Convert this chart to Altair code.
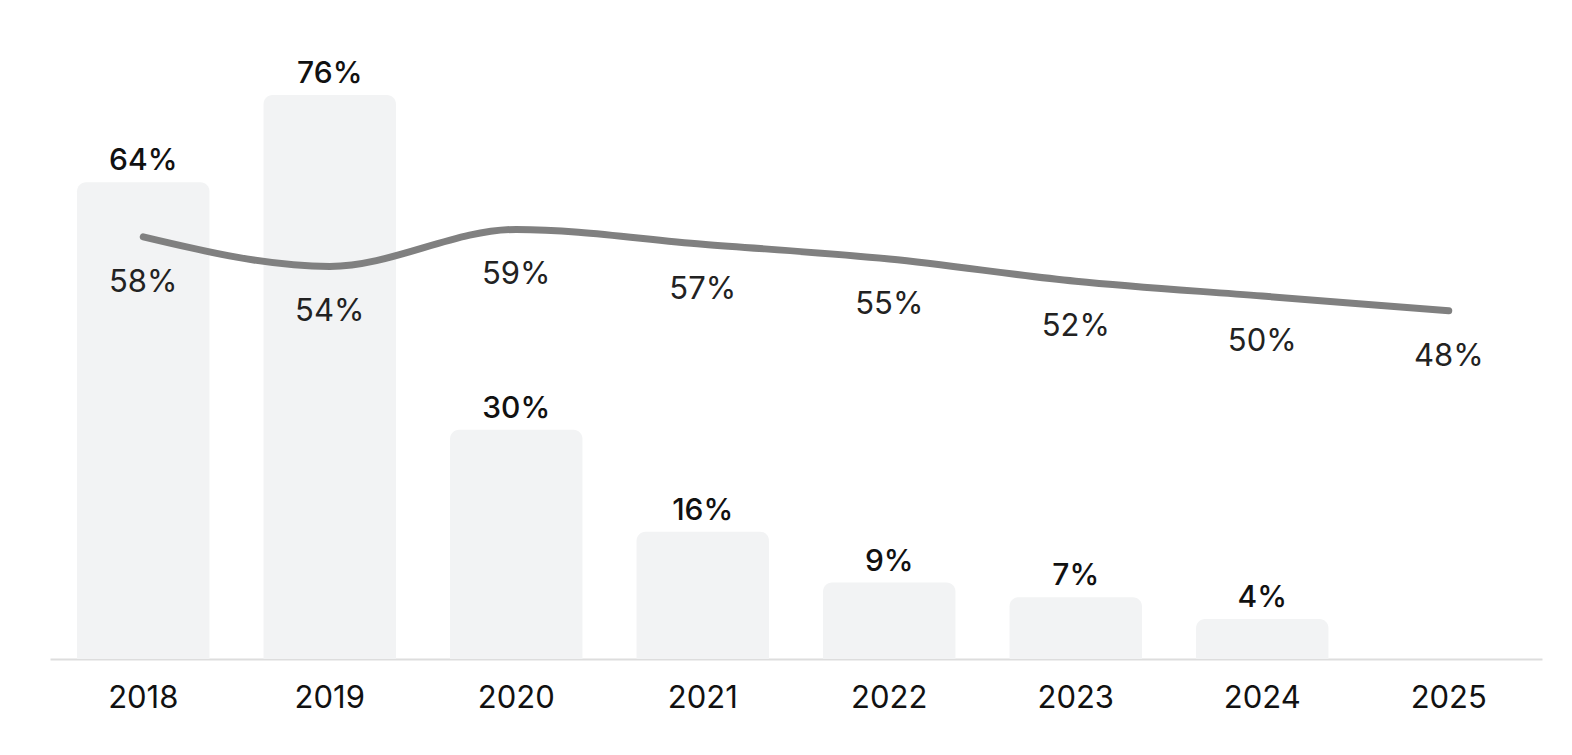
import altair as alt
import pandas as pd

years = ["2018", "2019", "2020", "2021", "2022", "2023", "2024", "2025"]
bar_values = [64, 76, 30, 16, 9, 7, 4, None]
line_values = [58, 54, 59, 57, 55, 52, 50, 48]

df = pd.DataFrame({
    "year": years,
    "bar": bar_values,
    "line": line_values,
    "bar_label": [f"{v}%" if v is not None else "" for v in bar_values],
    "line_label": [f"{v}%" for v in line_values],
})
df["base"] = -1.5

FONT = "Inter"
x = alt.X("year:N", sort=years, title=None,
          scale=alt.Scale(paddingInner=0.29, paddingOuter=0.145),
          axis=alt.Axis(labelAngle=0, labelFont=FONT, labelFontSize=31, labelColor="#111111",
                        labelPadding=24, ticks=False, domainColor="#dddddd", domainWidth=2,
                        grid=False))

bar_scale = alt.Scale(domain=[-1.5, 86.3], nice=False, zero=False)
line_scale = alt.Scale(domain=[0.95, 87.3], nice=False, zero=False)

bars = alt.Chart(df).transform_filter("isValid(datum.bar)").mark_bar(
    color="#f2f3f4", cornerRadiusTopLeft=9, cornerRadiusTopRight=9
).encode(
    x=x,
    y=alt.Y("bar:Q", scale=bar_scale, axis=None),
    y2="base:Q",
)

bar_text = alt.Chart(df).transform_filter("isValid(datum.bar)").mark_text(
    font=FONT, fontSize=30, fontWeight=500, color="#111111", baseline="alphabetic", dy=-12
).encode(
    x=x,
    y=alt.Y("bar:Q", scale=bar_scale, axis=None),
    text="bar_label:N",
)

line = alt.Chart(df).mark_line(
    color="#808080", strokeWidth=7, interpolate="monotone", strokeCap="round"
).encode(
    x=x,
    y=alt.Y("line:Q", scale=line_scale, axis=None),
)

line_text = alt.Chart(df).mark_text(
    font=FONT, fontSize=31, fontWeight=400, color="#222222", baseline="alphabetic", dy=55
).encode(
    x=x,
    y=alt.Y("line:Q", scale=line_scale, axis=None),
    text="line_label:N",
)

chart = alt.layer(bars, bar_text, line, line_text).resolve_scale(
    y="independent"
).properties(
    width=1492, height=639,
    background="white",
    autosize=alt.AutoSizeParams(type="none"),
    padding={"left": 42, "top": 12, "right": 22, "bottom": 90},
).configure_view(stroke=None, strokeWidth=0)

chart.save("out.html", embed_options={"renderer": "svg", "actions": False})
